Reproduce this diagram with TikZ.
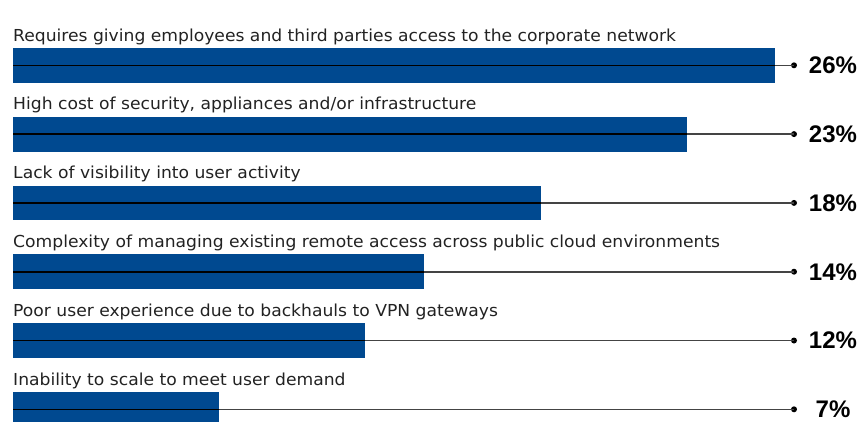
\documentclass[tikz,border=0pt]{standalone}
\usepackage{fontspec}
\setmainfont{Liberation Sans}
\newfontfamily\labfont[FakeStretch=1.04]{DejaVu Sans}
\definecolor{barblue}{HTML}{004990}
\definecolor{labgray}{HTML}{222222}
\definecolor{linegray}{HTML}{444444}
\begin{document}
\begin{tikzpicture}[x=1pt,y=-1pt,
  barbox/.style={fill=barblue,draw=none},
  lab/.style={anchor=base west,inner sep=0pt,text=labgray,font=\labfont\fontsize{16.5}{18}\selectfont},
  pct/.style={anchor=base,inner sep=0pt,text depth=0pt,text=black,font=\bfseries\fontsize{24}{28}\selectfont},
  lead/.style={draw=linegray,line width=1.6pt},
  dotc/.style={circle,fill=black,inner sep=0pt,minimum size=6pt}
]
\useasboundingbox (0,0) rectangle (862,421);
\foreach \i/\w/\t/\p in {
  0/775/{Requires giving employees and third parties access to the corporate network}/26,
  1/687/{High cost of security, appliances and/or infrastructure}/23,
  2/541/{Lack of visibility into user activity}/18,
  3/424/{Complexity of managing existing remote access across public cloud environments}/14,
  4/365/{Poor user experience due to backhauls to VPN gateways}/12,
  5/219/{Inability to scale to meet user demand}/7}{
  \pgfmathsetmacro{\yt}{48+68.8*\i}
  \pgfmathsetmacro{\ym}{\yt+17.3}
  \node[lab] (l\i) at (13,\yt-7) {\t};
  \fill[barblue] (13,\yt) rectangle (\w,\yt+34.7);
  \coordinate (s\i) at (13,\ym);
  \node[dotc] (d\i) at (794,\ym) {};
  \draw[lead] (s\i) -- (d\i.center);
  \draw[black,line width=1.6pt] (s\i) -- (\w,\ym);
  \node[pct] (p\i) at (833,\ym+8.3) {\p\%};
}
\end{tikzpicture}
\end{document}
